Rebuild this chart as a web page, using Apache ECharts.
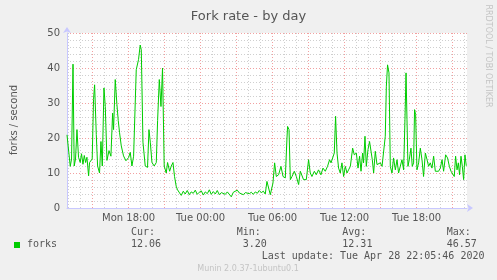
<!DOCTYPE html>
<html>
<head>
<meta charset="utf-8">
<script src="https://cdn.jsdelivr.net/npm/echarts@6/dist/echarts.min.js"></script>
<style>
html,body{margin:0;padding:0;background:#f0f0f0;}
#chart{width:497px;height:280px;}
</style>
</head>
<body>
<div id="chart"></div>
<script>
// time in hours relative to Tue 00:00
const hours = [
-11.13,-10.86,-10.75,-10.63,-10.53,-10.42,-10.30,-10.17,-10.03,-9.92,-9.80,-9.69,-9.58,-9.47,-9.33,-9.25,-9.13,-9.03,-8.92,-8.83,
-8.69,-8.58,-8.42,-8.30,-8.19,-8.05,-7.94,-7.80,-7.63,-7.47,-7.33,-7.25,-7.11,-6.97,-6.86,-6.75,-6.61,-6.42,-6.22,-6.00,
-5.86,-5.72,-5.58,-5.36,-5.17,-5.03,-4.94,-4.80,-4.61,-4.42,-4.30,-4.19,-4.05,-3.86,-3.69,-3.58,-3.44,-3.30,-3.17,-3.03,
-2.86,-2.75,-2.58,-2.44,-2.30,-2.17,-2.03,-1.92,-1.75,
-1.61,-1.44,-1.28,-1.11,-0.94,-0.78,-0.61,-0.44,-0.28,-0.11,0.06,0.23,0.39,0.56,0.73,0.89,1.06,1.23,1.39,1.56,
1.73,1.89,2.06,2.23,2.39,2.56,2.73,2.89,3.06,3.23,3.39,3.56,3.73,3.89,4.06,4.23,4.39,4.56,4.73,4.89,5.06,5.23,5.39,
5.53,5.81,6.03,6.17,6.31,6.50,6.70,6.87,7.06,7.20,7.25,7.37,7.48,7.62,7.81,7.98,8.17,8.31,8.45,8.58,
8.81,9.00,9.14,9.28,9.48,9.64,9.83,10.03,10.20,10.39,10.58,10.75,10.87,11.03,11.14,11.25,
11.37,11.50,11.64,11.78,11.92,12.06,12.20,12.33,12.48,12.67,12.81,12.98,13.12,13.25,13.37,13.50,13.58,13.70,13.81,13.95,
14.08,14.20,14.31,14.42,14.56,14.70,14.83,14.98,15.12,15.25,15.39,15.48,15.58,15.70,15.81,15.95,16.08,16.23,16.37,16.50,
16.64,16.78,16.92,17.03,17.12,17.20,17.28,17.39,17.53,17.64,17.75,17.83,17.92,18.03,18.17,18.31,18.45,18.58,18.73,18.87,
19.00,19.14,19.28,19.42,19.56,19.70,19.83,19.98,20.12,20.25,20.42,20.58,20.73,20.87,21.00,21.14,21.25,21.37,21.48,21.58,
21.70,21.81,21.92,22.03,22.14
];
const forks = [
20.9,11.9,14,41.1,12,14,22.4,14.5,13,15.5,12.5,15,13,14.5,9.2,13,13.4,14,31,35.2,
21,12,10,19,12,34.3,29,13.6,16.4,14.8,27.1,22.4,36.7,29.5,25,21.5,17.8,14.9,13.5,14.4,
15.9,12,14.8,39.5,42.4,46.57,45.2,18.8,12,11.6,22.4,18.8,13,12,13,25,36.7,29,40,12,
10,13,10.5,12,13,9,6.2,5.2,4.3,
3.6,4.8,4.0,5.0,3.8,4.6,4.2,5.1,3.9,4.5,4.9,3.7,4.6,4.1,5.2,3.9,4.7,4.0,5.0,3.8,
4.4,4.8,3.9,4.6,4.2,3.2,4.5,4.0,5.1,4.3,4.7,3.8,4.4,4.9,4.1,4.5,3.9,4.6,4.2,5.0,4.4,4.8,4.0,
7.6,3.8,7.1,12.9,9.0,9.5,11.9,9.0,8.6,20,23.3,22.4,8.1,9.0,10.5,9.0,6.7,10.5,10.0,8.1,
8.1,13.8,10,9.0,10.5,9.5,10.9,9.5,11.4,10.5,11.9,13.8,12.9,13.3,15.7,26.2,
15.7,11.4,10.0,12.9,9.0,11.9,10.0,10.9,11.9,17.1,15.2,15.7,11.4,14.8,10.5,15.7,12.9,20.5,11.9,16.7,
19.0,19.5,13.8,10.0,16.2,12.4,11.9,12.9,11.9,11.4,20.5,34.8,40.9,38.6,11.9,10.0,14.3,10.9,13.8,10.0,
11.9,13.8,10.9,25.2,38.6,25.2,11.9,13.8,17.1,11.9,12.9,28.1,26.7,10.9,12.9,17.1,13.8,9.0,15.7,13.8,
11.9,12.9,11.4,14.8,10.5,10.5,10.5,11.4,13.8,10.5,15.2,14.3,11.9,10.5,10.0,9.0,14.8,10.9,12.9,9.5,
14.8,11.9,8.1,15.2,12.06
];
const hourTicks = [-11,-10,-9,-8,-7,-6,-5,-4,-3,-2,-1,0,1,2,3,4,5,6,7,8,9,10,11,12,13,14,15,16,17,18,19,20,21,22];
const majorTicks = [-9,-6,-3,0,3,6,9,12,15,18,21];
const labelTicks = [-6,0,6,12,18];
const tickLabels = {'-6':'Mon 18:00','0':'Tue 00:00','6':'Tue 06:00','12':'Tue 12:00','18':'Tue 18:00'};
const legendStats = {cur:'12.06', min:'3.20', avg:'12.31', max:'46.57'};

const seriesData = hours.map((h,i)=>[h,forks[i]]);
const X_MIN = -11.13, X_MAX = 22.2;
const sans = 'DejaVu Sans';
const mono = 'DejaVu Sans Mono';
const txt = '#555';
const axisCol = '#c8c8ff';

const chart = echarts.init(document.getElementById('chart'), null, {renderer:'canvas'});
chart.setOption({
  backgroundColor:'#f0f0f0',
  animation:false,
  title:{text:'Fork rate - by day', left:'center', top:5,
    textStyle:{fontFamily:sans,fontSize:13,fontWeight:'normal',color:txt}},
  grid:{left:67,top:33,width:400,height:175,show:true,backgroundColor:'#fff',borderWidth:0},
  xAxis:[{
    type:'value', min:X_MIN, max:X_MAX, position:'bottom',
    axisLine:{show:true,onZero:false,lineStyle:{color:axisCol,width:1},symbol:['none','arrow'],symbolSize:[6,6],symbolOffset:[0,6]},
    axisTick:{show:false,customValues:majorTicks},
    splitLine:{show:true,lineStyle:{color:'#f2a0a0',type:[1,2],width:1}},
    axisLabel:{customValues:labelTicks,formatter:v=>tickLabels[String(v)]||'',
      fontFamily:sans,fontSize:10,color:txt,margin:5},
    z:3
  },{
    type:'value', min:X_MIN, max:X_MAX, position:'bottom',
    axisLine:{show:false,onZero:false},
    axisTick:{show:false,customValues:hourTicks},
    axisLabel:{show:false},
    splitLine:{show:true,lineStyle:{color:'#cfcfcf',type:[1,2],width:1}},
    z:2
  }],
  yAxis:{
    type:'value', min:0, max:50, interval:10,
    axisLine:{show:true,onZero:false,lineStyle:{color:axisCol,width:1},symbol:['none','arrow'],symbolSize:[6,6],symbolOffset:[0,6]},
    axisTick:{show:false},
    splitLine:{show:true,lineStyle:{color:'#f2a0a0',type:[1,2],width:1}},
    minorTick:{show:false,splitNumber:5},
    minorSplitLine:{show:true,lineStyle:{color:'#cfcfcf',type:[1,2],width:1}},
    axisLabel:{fontFamily:sans,fontSize:10,color:txt,margin:7},
    z:3
  },
  series:[{
    type:'line', xAxisIndex:0, data:seriesData, showSymbol:false,
    lineStyle:{color:'#00cc00',width:1}, itemStyle:{color:'#00cc00'}, z:5
  }],
  graphic:[
    {type:'text',x:14,y:120,rotation:Math.PI/2,style:{text:'forks / second',fontFamily:sans,fontSize:10,fill:txt,align:'center',verticalAlign:'middle'}},
    {type:'text',x:488,y:56,rotation:-Math.PI/2,style:{text:'RRDTOOL / TOBI OETIKER',fontFamily:sans,fontSize:8,fill:'#c4c4c4',align:'center',verticalAlign:'middle'}},
    {type:'rect',shape:{x:14,y:242,width:6,height:6},style:{fill:'#00cc00'}},
    {type:'text',x:27,y:244.5,style:{text:'forks',fontFamily:mono,fontSize:10,fill:txt,verticalAlign:'middle'}},
    {type:'text',x:131,y:232.5,style:{text:'Cur:',fontFamily:mono,fontSize:10,fill:txt,verticalAlign:'middle'}},
    {type:'text',x:131,y:244.5,style:{text:legendStats.cur,fontFamily:mono,fontSize:10,fill:txt,verticalAlign:'middle'}},
    {type:'text',x:236.7,y:232.5,style:{text:'Min:',fontFamily:mono,fontSize:10,fill:txt,verticalAlign:'middle'}},
    {type:'text',x:242.7,y:244.5,style:{text:legendStats.min,fontFamily:mono,fontSize:10,fill:txt,verticalAlign:'middle'}},
    {type:'text',x:342.3,y:232.5,style:{text:'Avg:',fontFamily:mono,fontSize:10,fill:txt,verticalAlign:'middle'}},
    {type:'text',x:342.3,y:244.5,style:{text:legendStats.avg,fontFamily:mono,fontSize:10,fill:txt,verticalAlign:'middle'}},
    {type:'text',x:446.7,y:232.5,style:{text:'Max:',fontFamily:mono,fontSize:10,fill:txt,verticalAlign:'middle'}},
    {type:'text',x:446.7,y:244.5,style:{text:legendStats.max,fontFamily:mono,fontSize:10,fill:txt,verticalAlign:'middle'}},
    {type:'text',x:261.7,y:256.7,style:{text:'Last update: Tue Apr 28 22:05:46 2020',fontFamily:mono,fontSize:10,fill:txt,verticalAlign:'middle'}},
    {type:'text',x:248,y:269.3,style:{text:'Munin 2.0.37-1ubuntu0.1',fontFamily:sans,fontSize:8,fill:'#c4c4c4',align:'center',verticalAlign:'middle'}}
  ]
});
</script>
</body>
</html>
